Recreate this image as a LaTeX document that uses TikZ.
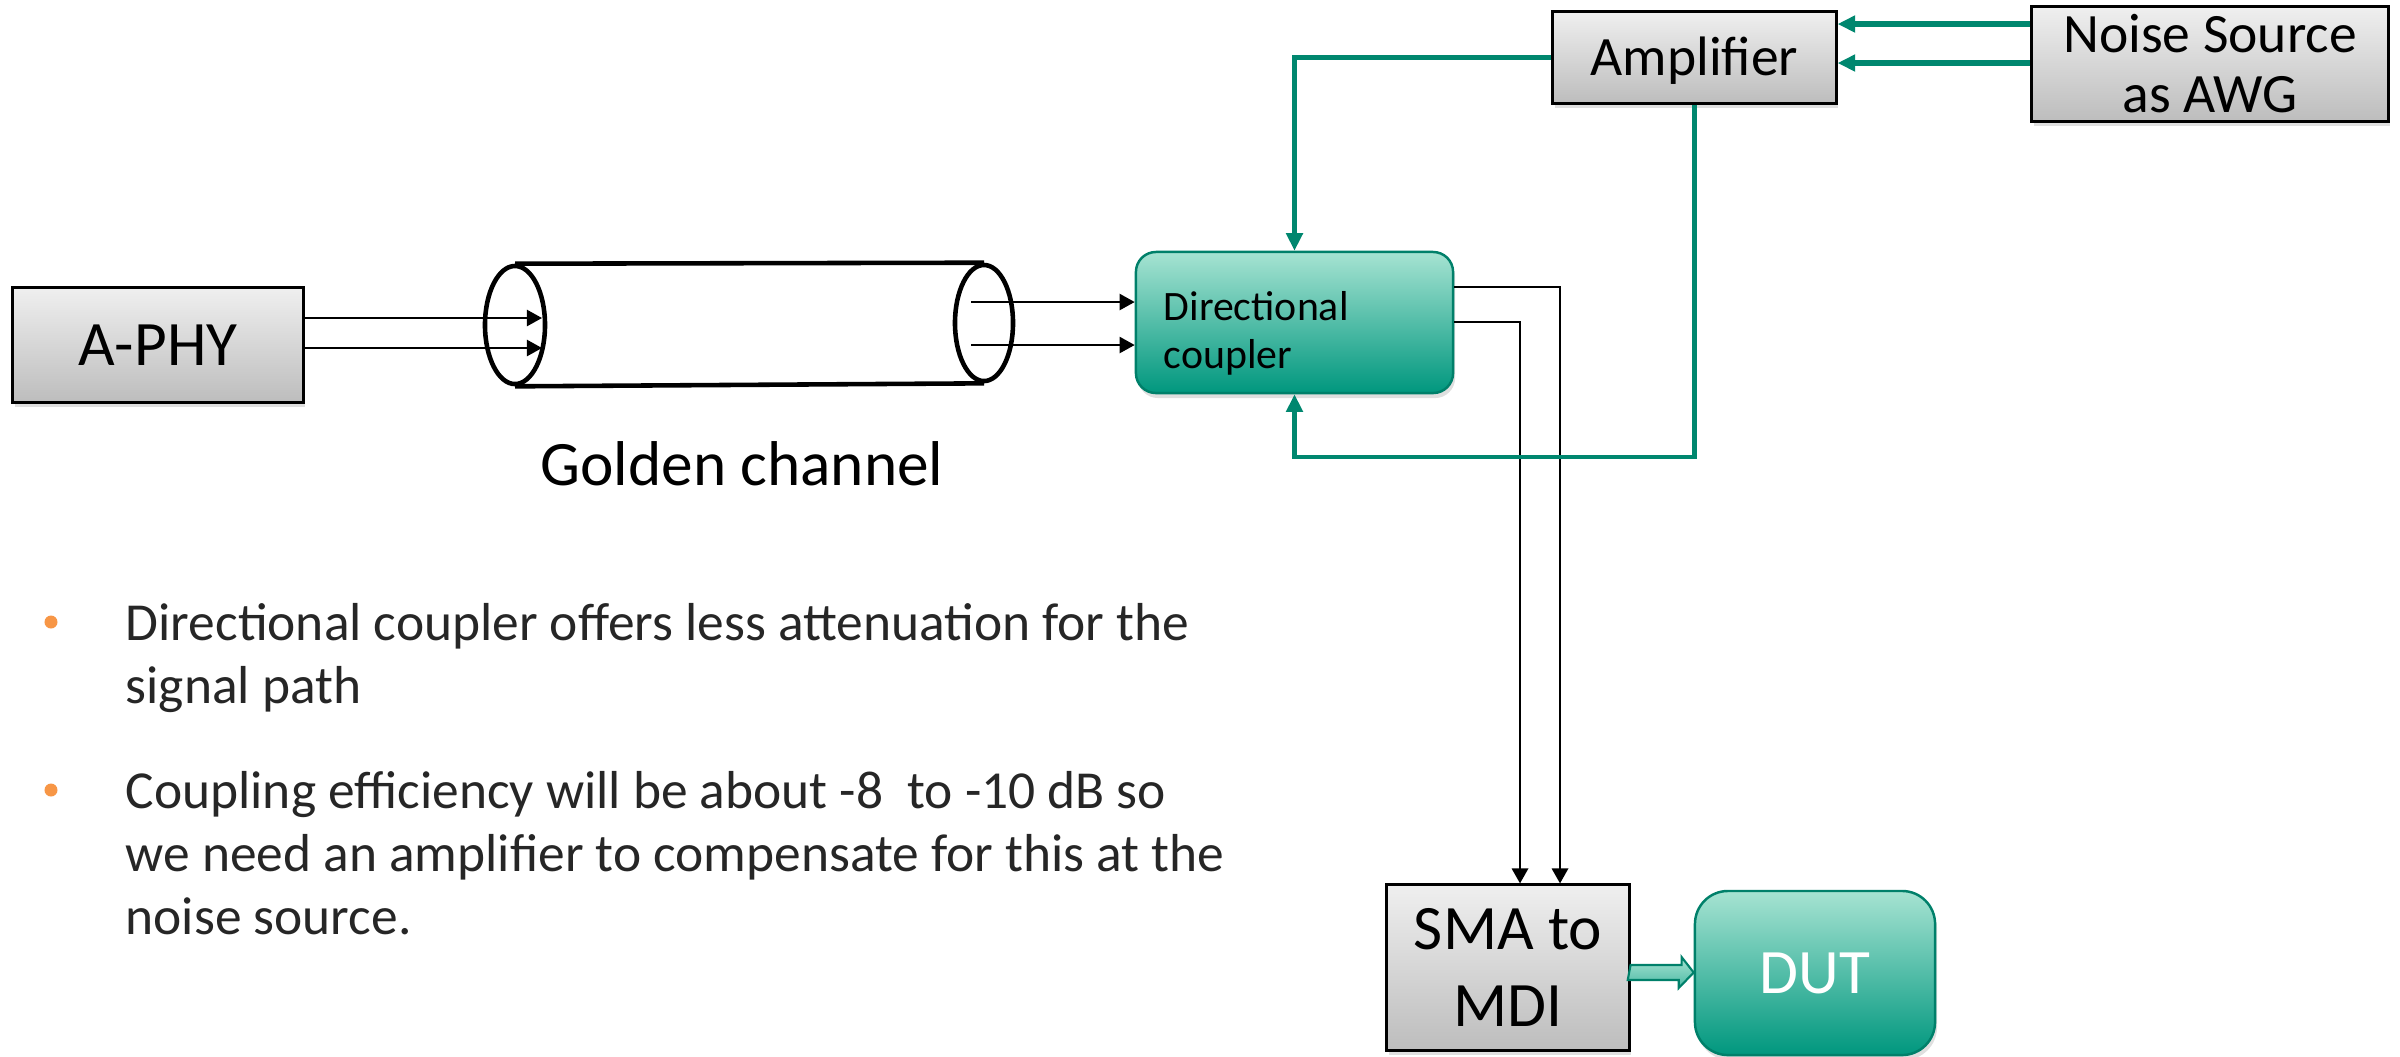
\documentclass[tikz,border=0pt]{standalone}
\usepackage{fontspec}
\setmainfont{Carlito}
\usetikzlibrary{arrows.meta,calc,shadows,shapes.geometric}
\definecolor{tealline}{HTML}{00876F}
\definecolor{tealtop}{HTML}{A6E3D2}
\definecolor{tealbot}{HTML}{00977E}
\definecolor{tealedge}{HTML}{00806A}
\definecolor{graytop}{HTML}{EFEFEF}
\definecolor{graybot}{HTML}{BDBDBD}
\definecolor{bulletc}{HTML}{F79646}
\definecolor{textc}{HTML}{262626}
\newcommand\myfbig{\fontsize{18pt}{22pt}\selectfont}
\newcommand\myfsma{\fontsize{18pt}{21.9pt}\selectfont}
\newcommand\myfmid{\fontsize{15.8pt}{17.1pt}\selectfont}
\newcommand\myfcpl{\fontsize{11.9pt}{13.7pt}\selectfont}
\newcommand\myfbul{\fontsize{15.2pt}{18pt}\selectfont}
\begin{document}
\begin{tikzpicture}[x=0.01cm,y=-0.01cm,
  graybox/.style={draw=black, line width=0.85pt, top color=graytop, bottom color=graybot,
    inner sep=0pt, align=center,
    drop shadow={shadow xshift=0.02cm, shadow yshift=-0.05cm, opacity=0.25}},
  tealbox/.style={draw=tealedge, line width=0.7pt, top color=tealtop, bottom color=tealbot,
    inner sep=0pt, align=center,
    drop shadow={shadow xshift=0.02cm, shadow yshift=-0.05cm, opacity=0.25}},
  cylend/.style={ellipse, draw=black, line width=1.3pt, inner sep=0pt},
  blk/.style={line width=0.6pt, -{Triangle[length=4.3pt,width=4.6pt]}},
  tarrow/.style={draw=tealline, line width=1.3pt, -{Triangle[length=5pt,width=4.6pt]}},
  bul/.style={anchor=base west, font=\myfbul, text=textc, inner sep=0pt},
  dot/.style={circle, fill=bulletc, minimum size=0.13cm, inner sep=0pt},
]
\useasboundingbox (0,0) rectangle (2400,1056);

% boxes
\node[graybox, minimum width=2.9cm, minimum height=1.14cm, font=\myfbig] (aphy) at (158,345) {A-PHY};
\node[graybox, minimum width=2.83cm, minimum height=0.91cm, font=\myfmid, text height=10.2pt, text depth=0pt] (amp) at (1694.5,57.5) {Amplifier};
\node[graybox, minimum width=3.56cm, minimum height=1.14cm, font=\myfmid] (noise) at (2210,64) {Noise Source\\as AWG};
\node[tealbox, rounded corners=0.2cm, minimum width=3.17cm, minimum height=1.41cm] (coupler) at (1294.5,322.5) {};
\node[anchor=west, align=left, font=\myfcpl, inner sep=0pt] (ctext) at (1163,333) {Directional\\coupler};
\node[graybox, minimum width=2.42cm, minimum height=1.65cm, font=\myfsma] (sma) at (1508,967.5) {SMA to\\MDI};
\node[tealbox, rounded corners=0.33cm, minimum width=2.4cm, minimum height=1.64cm, font=\myfbig, text=white] (dut) at (1815,973) {DUT};

% cylinder (golden channel)
\node[cylend, minimum width=0.6cm, minimum height=1.18cm] (cylL) at (515,325) {};
\node[cylend, minimum width=0.58cm, minimum height=1.16cm] (cylR) at (984,323) {};
\draw[line width=1.3pt] (cylL.north) -- (cylR.north) (cylL.south) -- (cylR.south);
\node[anchor=base, font=\myfbig, inner sep=0pt] (gc) at (742,485) {Golden channel};

% black connectors
\coordinate (a1) at (542,318);
\coordinate (a2) at (542,348);
\draw[blk] (aphy.east |- a1) -- (a1);
\draw[blk] (aphy.east |- a2) -- (a2);
\coordinate (b1) at (971,302);
\coordinate (b2) at (971,345);
\draw[blk] (b1) -- (b1 -| coupler.west);
\draw[blk] (b2) -- (b2 -| coupler.west);
\coordinate (o1) at (1560,287);
\coordinate (o2) at (1520,322);
\draw[blk, line width=0.8pt] (coupler.east |- o1) -- (o1) -- (o1 |- sma.north);
\draw[blk, line width=0.8pt] (coupler.east |- o2) -- (o2) -- (o2 |- sma.north);

% teal connectors
\coordinate (n1) at (2000,24);
\coordinate (n2) at (2000,63);
\draw[tarrow, line width=1.5pt] (noise.west |- n1) -- (amp.east |- n1);
\draw[tarrow, line width=1.5pt] (noise.west |- n2) -- (amp.east |- n2);
\draw[tarrow] (amp.west) -| (coupler.north);
\coordinate (lp) at (1694,457);
\draw[tarrow] (amp.south) -- (amp.south |- lp) -| (coupler.south);

% block arrow SMA -> DUT
\coordinate (ba) at (1660,972.5);
\draw[draw=tealedge, line width=0.6pt, top color=tealtop, bottom color=tealtop!45!tealbot]
  ($(sma.east |- ba)+(0,-7.5)$) -- ++(51,0) -- ++(0,-8) -- (dut.west |- ba) -- ++(-15,15.5) -- ++(0,-8) -- ++(-51,0) -- cycle;

% bullets
\node[dot] (d1) at (51,622) {};
\node[dot] (d2) at (51,790) {};
\node[bul] (t1) at (125,640) {Directional coupler offers less attenuation for the};
\node[bul] (t2) at (125,703) {signal path};
\node[bul] (t3) at (125,808) {Coupling efficiency will be about -8~ to -10 dB so};
\node[bul] (t4) at (125,871) {we need an amplifier to compensate for this at the};
\node[bul] (t5) at (125,934) {noise source.};
\end{tikzpicture}
\end{document}
